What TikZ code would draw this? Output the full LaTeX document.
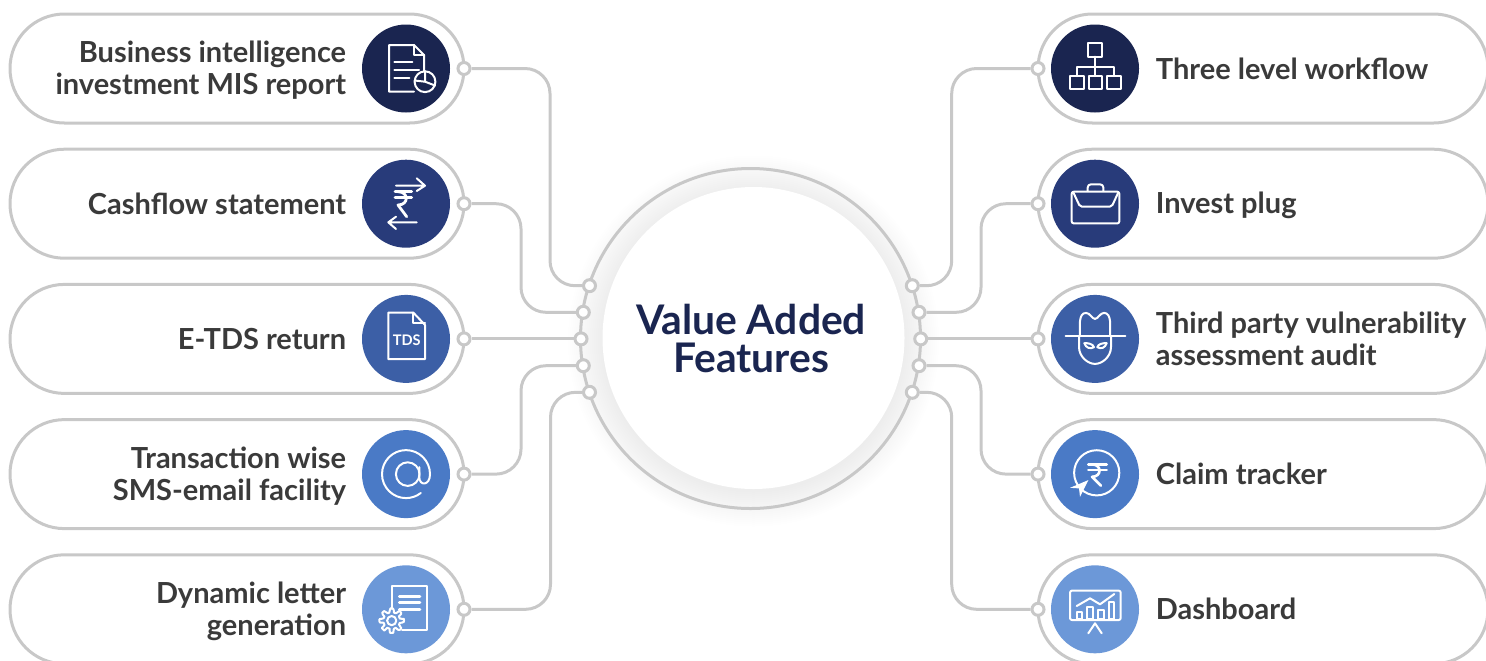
\documentclass[tikz,border=0pt]{standalone}
\usepackage{fontspec}
\setmainfont{Lato}
\usepackage{xcolor}
\usepackage{tikz}
\definecolor{linegray}{HTML}{C8C8C8}
\definecolor{inktext}{HTML}{3A3A3A}
\definecolor{navy}{HTML}{1A2550}
\definecolor{toneA}{HTML}{1A2550}
\definecolor{toneB}{HTML}{283B7A}
\definecolor{toneC}{HTML}{3C5FA6}
\definecolor{toneD}{HTML}{4A7AC6}
\definecolor{toneE}{HTML}{6C98D8}
\begin{document}
\begin{tikzpicture}[x=0.5pt,y=-0.5pt]
		\useasboundingbox (0,0) rectangle (1486,660);
		\clip (0,0) rectangle (1486,660);
		\tikzstyle{pill}=[draw=linegray,line width=1.5pt,fill=white,minimum height=54.5pt,rounded corners=27.2pt,inner sep=0pt]
		\tikzstyle{leftpill}=[pill,minimum width=227pt]
		\tikzstyle{rightpill}=[pill,minimum width=225pt]
		\tikzstyle{disc}=[circle,minimum size=44pt,inner sep=0pt]
		\tikzstyle{dot}=[circle,draw=linegray,fill=white,line width=1.5pt,minimum size=6pt,inner sep=0pt]
		\tikzstyle{conn}=[draw=linegray,line width=1.5pt,rounded corners=12.5pt]
		\tikzstyle{lefttext}=[anchor=east,align=right,inner sep=0pt,text=inktext,font=\fontsize{14.5}{16}\selectfont\bfseries]
		\tikzstyle{righttext}=[anchor=west,align=left,inner sep=0pt,text=inktext,font=\fontsize{14.5}{16}\selectfont\bfseries]
		\tikzstyle{icon}=[draw=white,line width=1pt,line join=round,line cap=round]
		% soft shadow round the centre
		\foreach \r [evaluate=\r as \p using (186-\r)*0.2] in {186,185,...,151}
			\fill[black!\p!white] (753.5,341) circle[radius=\r*0.5pt];
		\node[circle,draw=linegray,line width=1.5pt,minimum size=170pt,inner sep=0pt] (ring) at (750.5,338.5) {};
		\node[circle,fill=white,minimum size=151pt,inner sep=0pt] (core) at (753.5,338) {};
		\node[inner sep=0pt,align=center,text=navy,font=\fontsize{20.4}{19}\selectfont\bfseries] (title) at (751,338) {Value Added\\Features};
		% pills
		\node[leftpill] (pa) at (237,68.5) {};
		\node[leftpill] (pb) at (237,203.7) {};
		\node[leftpill] (pc) at (237,338.9) {};
		\node[leftpill] (pd) at (237,474.1) {};
		\node[leftpill] (pe) at (237,609.3) {};
		\node[rightpill] (qa) at (1263,68.5) {};
		\node[rightpill] (qb) at (1263,203.7) {};
		\node[rightpill] (qc) at (1263,338.9) {};
		\node[rightpill] (qd) at (1263,474.1) {};
		\node[rightpill] (qe) at (1263,609.3) {};
		% discs
		\node[disc,fill=toneA] (da) at (406,68.5) {};
		\node[disc,fill=toneB] (db) at (406,203.7) {};
		\node[disc,fill=toneC] (dc) at (406,338.9) {};
		\node[disc,fill=toneD] (dd) at (406,474.1) {};
		\node[disc,fill=toneE] (de) at (406,609.3) {};
		\node[disc,fill=toneA] (ea) at (1095,68.5) {};
		\node[disc,fill=toneB] (eb) at (1095,203.7) {};
		\node[disc,fill=toneC] (ec) at (1095,338.9) {};
		\node[disc,fill=toneD] (ed) at (1095,474.1) {};
		\node[disc,fill=toneE] (ee) at (1095,609.3) {};
		% labels
		\node[lefttext] (ta) at (346.5,70.5) {Business intelligence\\investment MIS report};
		\node[lefttext] (tb) at (346.5,203.7) {Cashflow statement};
		\node[lefttext] (tc) at (346.5,338.9) {E-TDS return};
		\node[lefttext] (td) at (346.5,476.1) {Transaction wise\\SMS-email facility};
		\node[lefttext] (te) at (346.5,611.3) {Dynamic letter\\generation};
		\node[righttext] (ua) at (1155.5,68.5) {Three level workflow};
		\node[righttext] (ub) at (1155.5,205.7) {Invest plug};
		\node[righttext] (uc) at (1155.5,338.9) {Third party vulnerability\\assessment audit};
		\node[righttext] (ud) at (1155.5,474.1) {Claim tracker};
		\node[righttext] (ue) at (1155.5,609.3) {Dashboard};
		% dots on the pills and on the ring
		\node[dot] (la) at (464,68.5) {};
		\node[dot] (lb) at (464,203.7) {};
		\node[dot] (lc) at (464,338.9) {};
		\node[dot] (ld) at (464,474.1) {};
		\node[dot] (le) at (464,609.3) {};
		\node[dot] (ra) at (1038,68.5) {};
		\node[dot] (rb) at (1038,203.7) {};
		\node[dot] (rc) at (1038,338.9) {};
		\node[dot] (rd) at (1038,474.1) {};
		\node[dot] (re) at (1038,609.3) {};
		\node[dot] (ha) at (589.5,285.7) {};
		\node[dot] (hb) at (583.3,312.3) {};
		\node[dot] (hc) at (581,338.9) {};
		\node[dot] (hd) at (583.3,365.7) {};
		\node[dot] (he) at (589.5,392.3) {};
		\node[dot] (ia) at (912.3,285.7) {};
		\node[dot] (ib) at (919,312.3) {};
		\node[dot] (ic) at (920.7,338.9) {};
		\node[dot] (id) at (919,365.7) {};
		\node[dot] (ie) at (912.3,392.3) {};
		\coordinate (ka) at (550,180);
		\coordinate (kb) at (521,260);
		\coordinate (kd) at (521,420);
		\coordinate (ke) at (550.5,500);
		\coordinate (ma) at (951.7,180);
		\coordinate (mb) at (981,260);
		\coordinate (md) at (981,420);
		\coordinate (me) at (951.7,500);
		% connectors
		\draw[conn] (la) -| (ka) |- (ha);
		\draw[conn] (lb) -| (kb) |- (hb);
		\draw[conn] (lc) -- (hc);
		\draw[conn] (ld) -| (kd) |- (hd);
		\draw[conn] (le) -| (ke) |- (he);
		\draw[conn] (ra) -| (ma) |- (ia);
		\draw[conn] (rb) -| (mb) |- (ib);
		\draw[conn] (rc) -- (ic);
		\draw[conn] (rd) -| (md) |- (id);
		\draw[conn] (re) -| (me) |- (ie);
		% report icon
		\begin{scope}[shift={(da.center)},icon]
			\draw (18,3) -- (18,-13.5) -- (8,-23.5) -- (-17,-23.5) -- (-17,23.2) -- (8,23.2);
			\draw (8,-23.5) -- (8,-13.5) -- (18,-13.5);
			\draw (-11.7,-6.8) -- (6.3,-6.8) (-11.7,1.5) -- (13,1.5) (-11.7,9.8) -- (3.3,9.8);
			\draw (19,13.2) circle[radius=5.2pt];
			\draw (19,2.7) -- (19,13.2) -- (8.7,12) (19,13.2) -- (29,17);
		\end{scope}
		% cashflow icon
		\begin{scope}[shift={(db.center)},icon]
			\draw (-10,-18) -- (18,-18) (10.7,-25.4) -- (19,-18) -- (10.7,-12.7);
			\draw[line width=1.4pt] (-11,-12) -- (5.7,-12) (-11,-6.4) -- (5.7,-6.4);
			\draw[line width=1.4pt] (-8,-12) .. controls (3,-12) and (3,1.3) .. (-8,1.3) -- (0.7,13);
			\draw (10.7,18.6) -- (-17.7,18.6) (-10,13) -- (-17.7,18.6) -- (-10,25.3);
		\end{scope}
		% tds icon
		\begin{scope}[shift={(dc.center)},icon]
			\draw (-17.7,-26.3) -- (7.3,-26.3) -- (19,-14) -- (19,20.3) -- (-17.7,20.3) -- cycle;
			\draw (7.3,-26.3) -- (7.3,-15.7) -- (19,-15.7);
			\node[draw=none,inner sep=0pt,text=white,font=\fontsize{7.3}{8}\selectfont\bfseries] (tdsmark) at (0.7,1.7) {TDS};
		\end{scope}
		% at icon
		\begin{scope}[shift={(dd.center)},icon]
			\draw (1.7,0) circle[radius=5.9pt];
			\draw (13.3,-7) -- (13.3,3) .. controls (13.3,12) and (24,12) .. (24,0) arc[start angle=0,end angle=308,radius=12pt];
		\end{scope}
		% gear and letter icon
		\begin{scope}[shift={(de.center)},icon]
			\draw (-14.3,-0.5) -- (-14.3,-23.7) -- (21.3,-23.7) -- (21.3,20.7) -- (-4,20.7);
			\draw[line width=1.3pt] (-6.7,-12.7) -- (14,-12.7) (-6.7,-6.7) -- (14,-6.7) (-6.7,0) -- (14,0);
			\draw (-14.3,11.3) circle[radius=2.3pt];
			\draw[shift={(-14.3,11.3)}] plot[domain=0:352,samples=65] (\x:{10.3+2*max(-1,min(1,3*cos(8*\x)))}) -- cycle;
		\end{scope}
		% workflow icon
		\begin{scope}[shift={(ea.center)},icon]
			\draw (-6.7,-25.2) rectangle (7.3,-11.8);
			\draw (0.3,-11.8) -- (0.3,-1.8);
			\draw (-18.3,7.5) -- (-18.3,-1.8) -- (19.3,-1.8) -- (19.3,7.5) (0.3,-1.8) -- (0.3,7.5);
			\draw (-25,7.5) rectangle (-11.3,20.5);
			\draw (-6.3,7.5) rectangle (7,20.5);
			\draw (12.3,7.5) rectangle (26.3,20.5);
		\end{scope}
		% briefcase icon
		\begin{scope}[shift={(eb.center)},icon]
			\draw[rounded corners=1pt] (-23.3,-12) rectangle (24.3,19.7);
			\draw[rounded corners=1pt] (-21.7,-11.3) -- (-15,3) -- (16.7,3) -- (23.3,-11.3);
			\draw[rounded corners=1.5pt] (-7.3,-12.7) -- (-7.3,-19.3) -- (8.3,-19.3) -- (8.3,-12.7);
		\end{scope}
		% hat icon
		\begin{scope}[shift={(ec.center)},icon]
			\draw (-29.3,-2.7) -- (30.3,-2.7);
			\draw (-15,-2.7) .. controls (-15,-12) and (-17,-26) .. (-9,-26) .. controls (-5,-26) and (-3,-20) .. (0,-20) .. controls (3,-20) and (5,-26) .. (9,-26) .. controls (17,-26) and (15,-12) .. (15,-2.7);
			\draw (-16,-2.7) -- (-16,8) .. controls (-16,18) and (-7,25) .. (0,25) .. controls (7,25) and (16,18) .. (16,8) -- (16,-2.7);
			\draw (-10.7,4.3) .. controls (-7,4) and (-2,5) .. (-1,8.3) .. controls (-5,10.5) and (-9,9) .. cycle;
			\draw (11.7,4.3) .. controls (8,4) and (3,5) .. (2.3,8.3) .. controls (6,10.5) and (10,9) .. cycle;
		\end{scope}
		% claim icon
		\begin{scope}[shift={(ed.center)},icon]
			\draw (1.7,-1.3) circle[radius=11.3pt];
			\draw[line width=1.3pt] (-6.7,-9.7) -- (11.7,-9.7) (-6.7,-4) -- (11.7,-4);
			\draw[line width=1.3pt] (-3,-9.7) .. controls (7,-9.7) and (7,2.7) .. (-3,2.7) -- (6,11.7);
			\fill[white] (-25,13.7) -- (-6.7,6) -- (-15,22.7) -- (-16,14.3) -- cycle;
		\end{scope}
		% dashboard icon
		\begin{scope}[shift={(ee.center)},icon]
			\draw[rounded corners=1pt] (-25,-18.7) rectangle (25.7,10.7);
			\draw (-18.3,2.3) rectangle (-12.7,10);
			\draw (-7.7,-2) rectangle (-2.3,10);
			\draw (3.3,0.7) rectangle (9,10);
			\draw (14,-7) rectangle (19.3,10);
			\draw (-18.3,-3.3) -- (-5,-11) -- (5,-5) -- (19.3,-15.3);
			\draw (-6.7,24) -- (0,14) -- (6.7,24);
		\end{scope}
		\end{tikzpicture}
\end{document}
